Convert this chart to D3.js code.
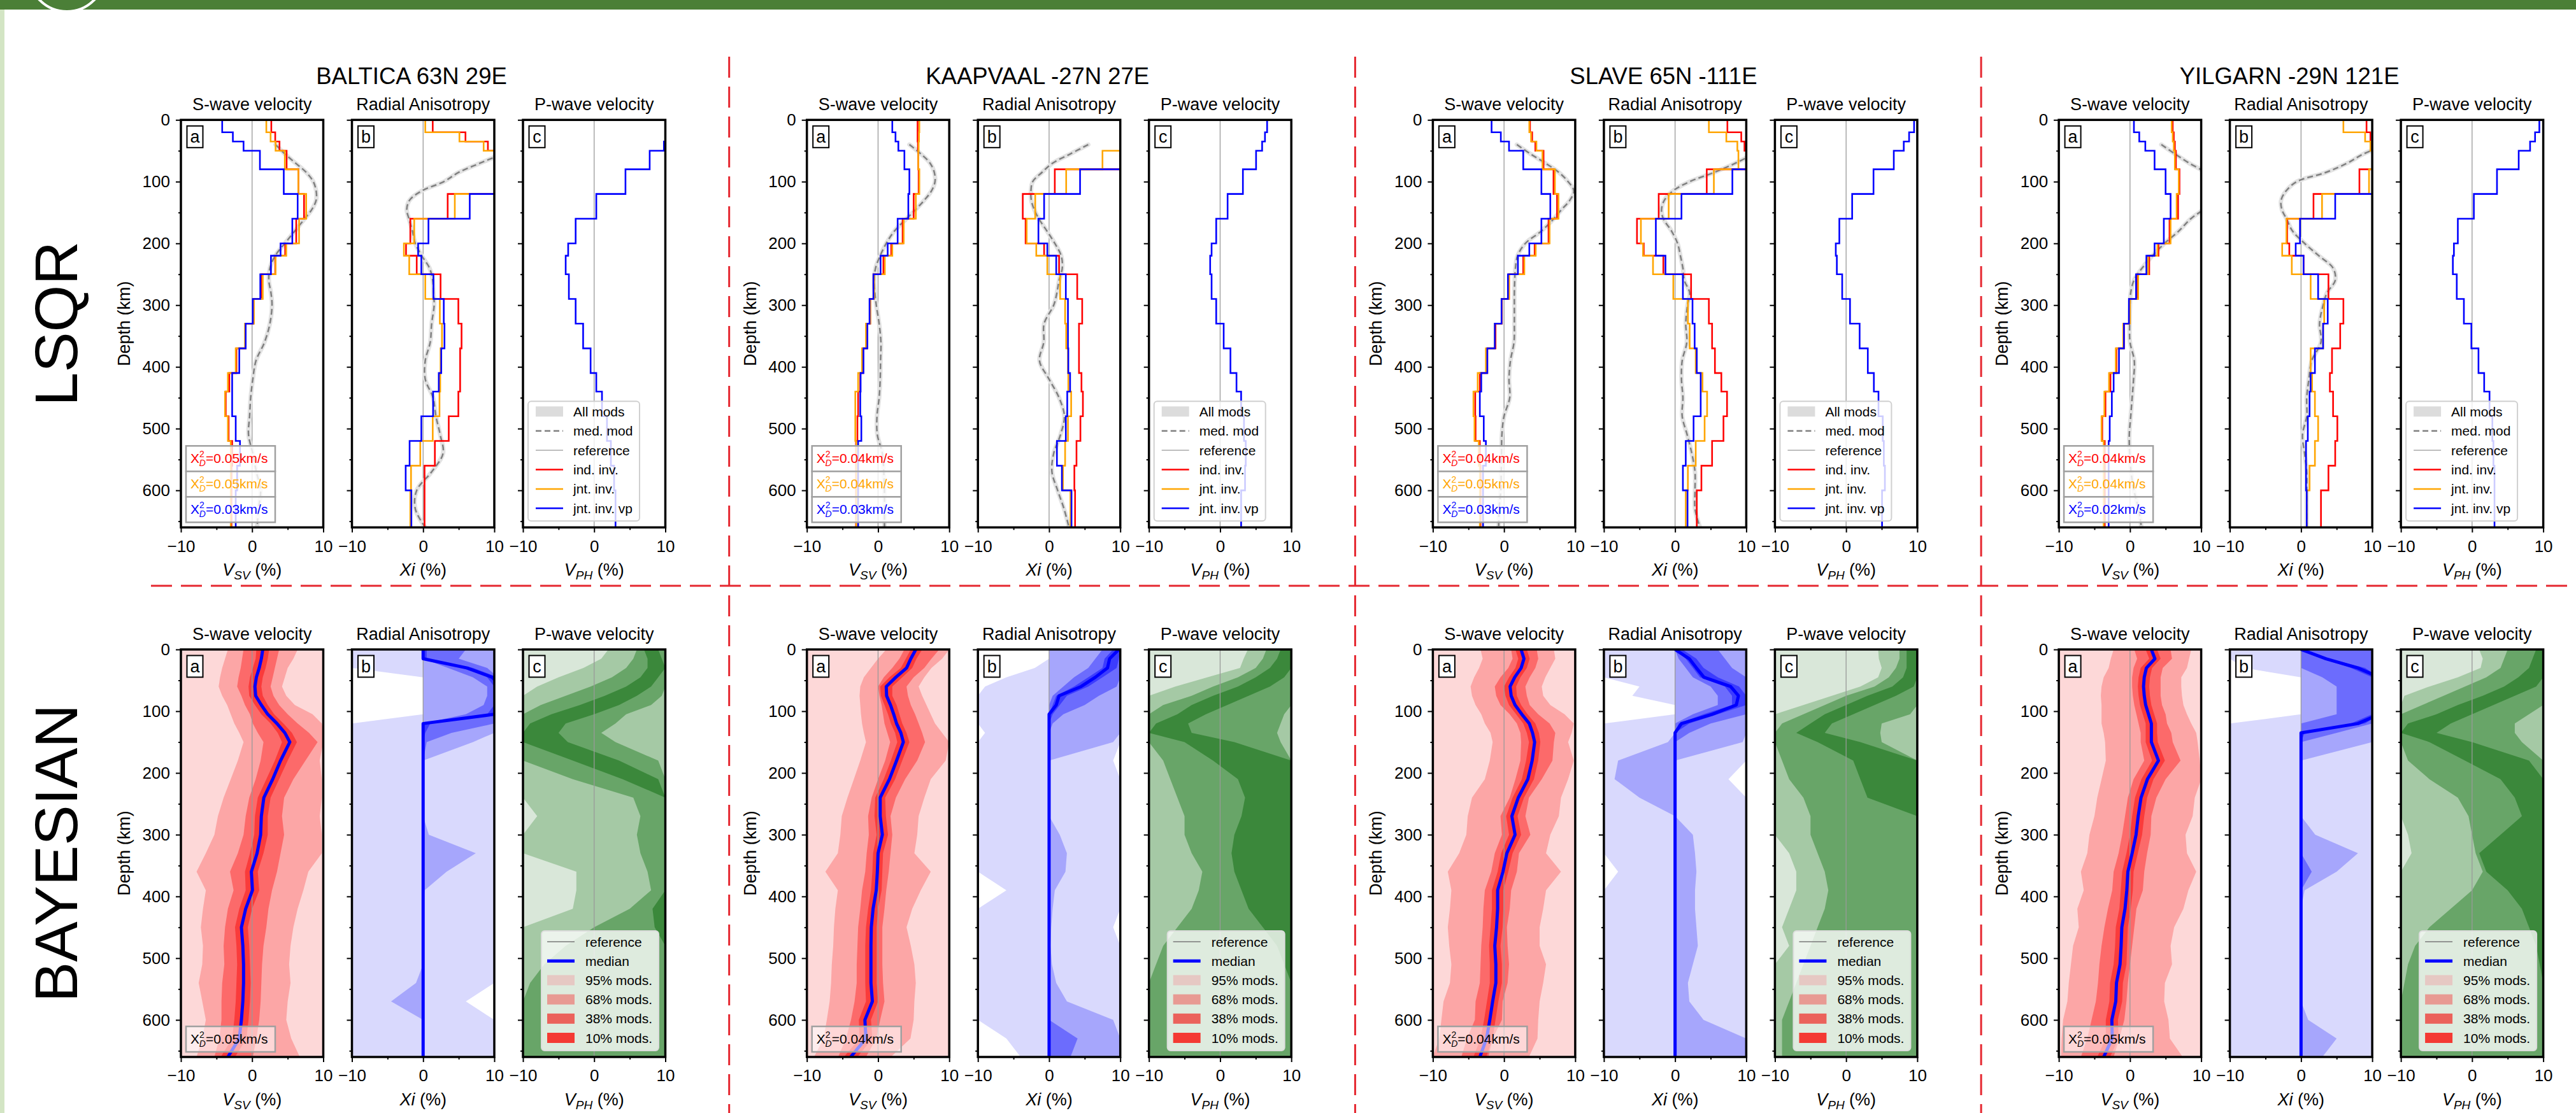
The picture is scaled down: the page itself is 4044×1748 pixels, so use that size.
<!DOCTYPE html>
<meta charset="utf-8">
<head>
  <title>LSQR vs Bayesian cratonic profiles</title>
</head>

<style>
body {
  margin: 0;
  background: #fff;
  font-family: "Liberation Sans", Arial, Helvetica, sans-serif;
}
svg text { font-family: "Liberation Sans", Arial, Helvetica, sans-serif; }
</style>

<body>
  <div id="content">
    <svg width="4044" height="1748"></svg>
  </div>

  <script src="https://cdnjs.cloudflare.com/ajax/libs/d3/7.8.5/d3.min.js"></script>

  <script>
// ---- depth grids ----
var LAYERS = [0,20,35,50,80,120,160,200,220,250,290,330,370,410,440,480,520,560,600,660];
var MED_DEPTHS = [40,55,70,85,100,115,130,145,160,180,200,220,240,260,280,300,330,360,390,420,450,480,510,540,570,600,630,660];
var BAYES_DEPTHS = [0,15,30,45,60,75,90,105,120,135,150,180,210,240,270,300,330,360,390,420,450,480,510,540,570,600,630,660];

// ---- labels ----
var REGION_NAMES = ['BALTICA 63N 29E', 'KAAPVAAL -27N 27E', 'SLAVE 65N -111E', 'YILGARN -29N 121E'];
var ROW_NAMES = ['LSQR', 'BAYESIAN'];
var PANEL_TITLES = ['S-wave velocity', 'Radial Anisotropy', 'P-wave velocity'];
var PANEL_LETTERS = ['a', 'b', 'c'];
var AXIS_LABELS = [['V', 'SV'], ['Xi', ''], ['V', 'PH']];
var CHI_LSQR = [['0.05','0.05','0.03'], ['0.04','0.04','0.03'], ['0.04','0.05','0.03'], ['0.04','0.04','0.02']];
var CHI_BAYES = ['0.05', '0.04', '0.04', '0.05'];
var LEGEND_LSQR = ['All mods', 'med. mod', 'reference', 'ind. inv.', 'jnt. inv.', 'jnt. inv. vp'];
var LEGEND_BAYES = ['reference', 'median', '95% mods.', '68% mods.', '38% mods.', '10% mods.'];
var X_TICKS = [-10, 0, 10], X_MINOR = [-5, 5];
var Y_TICKS = [0,100,200,300,400,500,600], Y_MINOR = [50,150,250,350,450,550,650];

// ---- LSQR step models (one value per layer) ----
var BAL_VSV_IND = [2.7,3.25,3.85,4.85,6.5,7.3,6.2,4.65,3.25,1.3,0.2,-0.9,-2.2,-3.2,-3.7,-3.3,-2.8,-2.9,-2.9];
var BAL_VSV_JNT = [2.0,2.6,3.3,4.6,6.5,7.6,6.6,4.8,3.3,1.5,0.25,-1.0,-2.3,-3.4,-3.8,-3.4,-3.0,-3.0,-3.0];
var BAL_VSV_VP  = [-4.2,-2.7,-1.2,1.1,4.45,6.4,5.65,4.0,2.65,1.15,0.1,-0.9,-1.8,-2.8,-2.8,-2.3,-1.7,-2.1,-2.3];
var BAL_XI_IND  = [1.35,5.95,9.1,12,12,3.45,-1.8,-2.4,-0.9,2.45,4.95,5.4,5.2,5.2,4.95,3.6,1.65,0.2,0.2];
var BAL_XI_JNT  = [0.3,5.1,8.5,12,12,4.45,-1.25,-2.7,-1.95,0.3,2.35,2.65,2.45,2.4,2.3,1.35,-0.4,-1.7,-1.8];
var BAL_XI_VP   = [12,12,12,12,12,6.55,0.75,-0.7,-0.25,1.45,2.9,3.0,2.55,2.2,1.4,-0.25,-1.9,-2.45,-1.65];
var BAL_VPH_VP  = [12,12,9.8,7.8,4.4,0.3,-2.6,-3.65,-4.0,-3.55,-2.6,-1.55,-0.5,0.3,1.1,1.8,2.35,2.8,3.0];

var KAA_VSV_IND = [5.55,5.55,5.6,5.65,5.7,5.0,3.45,1.85,0.75,-0.65,-1.1,-1.55,-2.1,-2.5,-2.8,-2.9,-3.1,-3.1,-3.1];
var KAA_VSV_JNT = [5.8,5.75,5.7,5.65,5.8,5.3,3.6,2.0,0.95,-0.55,-1.1,-1.7,-2.25,-2.8,-3.2,-3.2,-3.05,-3.05,-3.05];
var KAA_VSV_VP  = [2.0,2.45,2.85,3.7,4.4,4.25,2.75,1.35,0.35,-0.65,-1.2,-1.5,-2.05,-2.45,-2.5,-2.35,-2.8,-2.8,-2.8];
var KAA_XI_IND  = [12,12,12,12,0.8,-3.7,-3.3,-0.7,1.4,3.95,4.65,4.2,4.2,4.55,4.75,4.4,3.85,3.55,3.65];
var KAA_XI_JNT  = [12,12,12,7.5,2.4,-1.95,-3.15,-1.8,-0.25,1.55,2.25,2.4,2.65,2.7,3.1,2.65,2.25,1.95,3.0];
var KAA_XI_VP   = [12,12,12,12,4.35,-0.7,-1.5,-0.25,1.0,2.35,2.65,2.65,2.7,2.95,2.55,2.35,1.1,1.8,3.15];
var KAA_VPH_VP  = [6.6,6.3,5.9,5.05,3.2,1.05,-0.55,-1.2,-1.4,-1.2,-0.55,0.5,1.45,2.3,2.95,3.35,3.6,3.5,2.95];

var SLA_VSV_IND = [3.65,3.95,4.4,5.55,6.95,7.45,6.25,4.3,2.7,0.7,-0.3,-1.2,-2.35,-3.4,-4.05,-4.0,-3.4,-3.3,-3.3];
var SLA_VSV_JNT = [3.55,3.8,4.55,5.4,7.15,7.65,6.4,4.45,2.85,0.7,-0.35,-1.3,-2.55,-3.7,-4.3,-4.15,-3.55,-3.4,-3.4];
var SLA_VSV_VP  = [-1.75,-0.45,0.7,2.7,5.25,6.5,5.25,3.55,1.95,0.55,-0.35,-1.3,-2.35,-3.2,-3.4,-2.85,-2.55,-2.95,-2.95];
var SLA_XI_IND  = [7.35,9.3,9.75,12,4.45,-2.3,-5.35,-4.4,-1.65,2.25,4.75,5.2,5.6,6.5,7.3,6.8,5.2,3.7,3.05];
var SLA_XI_JNT  = [4.75,7.2,8.75,8.9,5.45,-0.9,-4.8,-4.5,-3.1,-0.25,1.8,2.05,2.9,3.85,4.5,4.15,2.9,1.8,1.5];
var SLA_XI_VP   = [12,12,12,12,8.05,0.9,-2.7,-2.7,-1.35,1.1,2.45,2.75,3.05,3.6,3.6,2.6,1.5,1.1,1.75];
var SLA_VPH_VP  = [9.55,8.85,8.1,6.7,3.85,0.85,-0.95,-1.45,-1.3,-0.55,0.55,1.9,3.05,3.9,4.55,5.15,5.3,5.45,5.05];

var YIL_VSV_IND = [6.0,6.15,6.3,6.45,6.95,6.75,5.55,4.0,2.7,1.0,-0.1,-0.85,-1.9,-2.75,-3.45,-3.9,-3.55,-3.55,-3.55];
var YIL_VSV_JNT = [5.85,6.0,6.15,6.3,6.85,6.55,5.7,3.85,2.55,1.15,0.0,-0.95,-2.0,-2.95,-3.6,-4.0,-3.7,-3.7,-3.7];
var YIL_VSV_VP  = [0.55,1.3,2.15,3.45,5.0,5.7,4.75,3.45,2.3,0.85,-0.15,-0.85,-1.55,-2.3,-2.55,-2.85,-3.0,-3.0,-3.0];
var YIL_XI_IND  = [9.2,9.75,9.75,12,8.2,1.75,-1.95,-1.65,0.35,3.85,5.95,5.5,4.35,4.05,4.5,5.1,4.8,3.85,2.8];
var YIL_XI_JNT  = [5.95,9.0,9.75,12,9.55,2.95,-2.05,-2.65,-1.3,1.35,3.25,3.1,1.35,1.55,1.95,2.4,1.95,1.2,0.8];
var YIL_XI_VP   = [12,12,12,12,12,4.8,-0.15,-0.75,0.35,2.4,3.75,3.1,1.95,1.35,1.2,0.95,0.7,0.7,0.8];
var YIL_VPH_VP  = [9.45,8.85,8.15,6.55,3.5,0.25,-2.0,-2.55,-2.7,-2.15,-1.15,-0.1,0.9,1.7,2.45,2.85,3.0,3.15,3.15];

// ---- LSQR median of all models (on MED_DEPTHS) ----
var BAL_VSV_MED = [3.3,4.6,6.1,7.6,8.6,9.0,9.0,8.4,7.4,6.0,4.6,3.25,2.5,2.35,2.65,2.8,2.5,1.75,0.55,0.1,-0.2,-0.35,-0.5,0.1,0.6,1.2,0.9,0.7];
var BAL_XI_MED  = [13,11,8.0,5.0,2.9,-0.2,-1.9,-2.3,-2.0,-1.5,-1.1,-0.2,0.9,1.35,1.45,1.55,1.2,1.0,0.3,0.3,1.4,1.8,2.4,2.8,1.2,-0.9,-1.1,0.3];
var KAA_VSV_MED = [4.4,6.0,7.3,7.9,8.0,7.5,6.5,5.3,4.0,2.3,1.15,0.3,-0.35,-0.55,-0.45,-0.25,0.15,0.4,0.35,0.3,0.15,-0.15,-0.1,0.6,0.8,0.9,0.9,0.9];
var KAA_XI_MED  = [5.5,3.0,0.5,-1.0,-2.3,-2.55,-2.5,-2.1,-1.45,-0.3,0.8,1.7,1.85,1.4,1.1,0.65,-0.7,-0.75,-1.35,0,1.4,2.15,1.6,0.65,0.4,1.2,2.1,2.8];
var SLA_VSV_MED = [1.8,3.7,5.8,7.7,9.0,9.8,9.25,8.1,7.0,5.25,3.0,1.9,1.6,1.5,1.45,1.45,1.45,1.4,0.9,0.7,0.8,0.0,-0.3,-0.35,-0.4,-0.45,-0.7,-0.75];
var SLA_XI_MED  = [13,11,8.5,5.5,2.05,-0.3,-1.5,-1.9,-1.65,-0.5,0.35,0.75,1.1,1.3,2.05,1.75,1.5,1.65,1.0,0.9,1.1,1.0,1.7,2.35,2.8,2.8,2.8,3.5];
var YIL_VSV_MED = [4.4,6.3,8.3,10.5,11.5,12,11.5,10.3,8.55,6.85,4.85,3.15,1.7,0.55,0.1,0,-0.05,0,0.6,0.5,0.3,0.1,-0.1,-0.05,0.15,0.55,1.2,1.6];
var YIL_XI_MED  = [12,8.8,6.5,3.5,-0.6,-2.1,-2.8,-2.7,-2.05,-1.2,0.5,2.5,4.5,4.8,3.65,3.1,2.6,2.8,1.5,1.1,0.8,0.8,0.2,0.5,0.8,0.8,0.8,0.8];

// ---- Bayesian percentiles (on BAYES_DEPTHS) ----
var FULL_LO = [-10,-10,-10,-10,-10,-10,-10,-10,-10,-10,-10,-10,-10,-10,-10,-10,-10,-10,-10,-10,-10,-10,-10,-10,-10,-10,-10,-10];
var FULL_HI = [10,10,10,10,10,10,10,10,10,10,10,10,10,10,10,10,10,10,10,10,10,10,10,10,10,10,10,10];
var ZEROS   = [0,0,0,0,0,0,0,0,0,0,0,0,0,0,0,0,0,0,0,0,0,0,0,0,0,0,0,0];

// S-wave (a)
var BAL_BA_MED  = [1.5,1.3,1.0,0.6,0.4,0.5,1.3,2.2,3.5,4.6,5.3, 4.0,2.9,1.65,1.3,1.2,0.7,-0.1,0.05,-0.9,-1.5,-1.3,-1.2,-1.2,-1.3,-1.5,-1.8,-3.4];
var BAL_BA_LO10 = [0.6,0.5,0.1,-0.3,-0.5,-0.4,0.4,1.3,2.6,3.6,4.2, 3.2,2.0,0.8,0.4,0.3,-0.3,-1.0,-0.9,-1.8,-2.4,-2.2,-2.1,-2.2,-2.3,-2.5,-2.8,-4.4];
var BAL_BA_HI10 = [2.4,2.2,1.9,1.5,1.3,1.5,2.2,3.1,4.4,5.6,6.3, 5.0,3.8,2.6,2.2,2.2,1.6,0.8,1.0,0.0,-0.6,-0.4,-0.3,-0.2,-0.3,-0.5,-0.8,-2.4];
var BAL_BA_LO38 = [-1.2,-1.4,-1.6,-1.9,-2.1,-1.5,-1.0,-0.3,0.1,0.8,1.6, 1.2,0.5,-0.4,-0.9,-1.2,-2.0,-3.1,-2.6,-3.4,-3.8,-4.0,-3.9,-4.2,-4.3,-4.3,-4.6,-5.3];
var BAL_BA_HI38 = [3.8,3.5,3.2,2.9,2.6,3.0,3.8,5.0,6.4,8.0,9.2, 7.5,5.8,4.5,4.2,4.5,4.0,3.5,2.8,2.3,2.0,1.6,1.4,1.3,1.2,1.0,0.6,0.1];
var BAL_BA_LO68 = [-3.4,-3.8,-4.2,-4.5,-4.7,-4.2,-3.5,-3.0,-2.5,-1.8,-1.2, -2.0,-3.0,-4.0,-4.8,-5.3,-6.5,-7.8,-6.5,-6.9,-7.2,-6.9,-7.0,-7.5,-7.0,-6.5,-7.0,-7.8];
var BAL_BA_HI68 = [6.4,5.8,5.0,4.6,4.2,4.8,6.0,8.5,9.8,10,10, 9.5,9.8,9.8,9.5,9.8,9.8,7.9,7.2,6.4,5.8,5.4,5.2,5.4,5.0,4.8,5.5,6.7];

var KAA_BA_MED  = [5.3,4.6,4.0,2.5,1.15,1.2,1.75,2.2,2.6,3.2,3.55, 2.6,1.6,0.3,0.3,0.6,0.0,-0.1,-0.25,-0.7,-0.95,-1.0,-1.0,-1.0,-0.8,-1.85,-1.7,-3.85];
var KAA_BA_LO10 = [4.6,3.9,3.2,1.6,0.3,0.4,0.9,1.4,1.8,2.4,2.7, 1.8,0.8,-0.4,-0.5,-0.2,-0.7,-0.8,-1.0,-1.4,-1.7,-1.8,-1.8,-1.8,-1.7,-2.7,-2.6,-4.8];
var KAA_BA_HI10 = [6.2,5.4,4.8,3.4,2.0,2.0,2.6,3.0,3.4,4.0,4.4, 3.4,2.4,1.0,1.1,1.4,0.7,0.6,0.5,0.0,-0.2,-0.2,-0.2,-0.2,0.0,-1.0,-0.8,-2.9];
var KAA_BA_LO38 = [3.7,3.0,2.0,0.8,0.0,0.2,0.5,0.7,0.9,1.3,1.7, 1.0,0.0,-0.9,-1.4,-1.3,-1.6,-1.8,-2.25,-2.5,-2.8,-2.9,-3.0,-3.0,-3.3,-3.8,-4.5,-5.6];
var KAA_BA_HI38 = [8.6,7.5,6.5,5.0,4.0,4.2,4.6,5.2,5.7,6.2,6.6, 5.5,3.8,2.5,1.75,2.0,1.75,1.5,1.15,0.9,0.6,0.6,0.6,0.7,0.9,0.3,-0.25,-1.7];
var KAA_BA_LO68 = [1.15,0.0,-1.0,-2.0,-2.5,-2.6,-2.5,-2.4,-2.25,-2.0,-1.7, -2.5,-3.4,-4.3,-5.1,-5.3,-5.65,-7.4,-5.65,-6.0,-6.2,-6.3,-6.5,-6.6,-6.8,-7.2,-7.65,-9.0];
var KAA_BA_HI68 = [10,9.0,7.5,6.5,5.7,6.2,6.8,7.4,8.0,9.0,10, 9.5,7.4,6.5,5.7,5.5,5.1,7.4,6.0,4.8,4.0,4.6,5.1,5.3,5.1,5.0,4.55,1.8];

var SLA_BA_MED  = [2.4,2.8,2.4,1.5,0.85,1.0,1.55,2.5,3.55,4.0,4.3, 3.95,3.35,2.0,1.1,1.55,0.4,-0.15,-0.9,-0.9,-1.05,-1.3,-1.15,-1.15,-1.6,-2.0,-2.45,-3.4];
var SLA_BA_LO10 = [1.6,2.0,1.6,0.7,0.0,0.2,0.7,1.7,2.7,3.2,3.5, 3.1,2.5,1.2,0.3,0.7,-0.4,-0.9,-1.7,-1.7,-1.9,-2.1,-2.0,-2.0,-2.4,-2.8,-3.3,-4.3];
var SLA_BA_HI10 = [3.2,3.6,3.2,2.3,1.7,1.8,2.4,3.3,4.4,4.9,5.1, 4.8,4.2,2.8,1.9,2.4,1.2,0.6,-0.1,-0.1,-0.2,-0.5,-0.3,-0.3,-0.8,-1.2,-1.6,-2.5];
var SLA_BA_LO38 = [1.0,1.2,0.6,-0.5,-1.3,-1.1,-0.5,0.8,1.8,2.3,2.4, 2.3,1.6,0.8,-0.5,-0.3,-1.3,-1.8,-2.7,-2.9,-3.0,-3.2,-3.3,-3.4,-4.0,-4.1,-5.2,-6.0];
var SLA_BA_HI38 = [4.6,4.8,4.4,3.6,3.0,3.2,3.6,4.8,6.4,7.2,7.0, 6.8,5.3,3.5,3.0,3.7,2.1,1.8,1.0,0.8,0.4,0.5,0.7,0.5,-0.2,-0.3,-1.6,-2.2];
var SLA_BA_LO68 = [-3.3,-3.0,-3.5,-4.2,-4.7,-4.5,-4.0,-3.2,-2.7,-1.9,-1.6, -2.0,-2.7,-4.5,-5.1,-5.3,-6.3,-7.9,-7.4,-7.6,-7.9,-7.7,-7.4,-7.6,-8.5,-8.8,-9.1,-10];
var SLA_BA_HI68 = [7.0,7.2,6.5,5.8,5.3,5.5,6.5,8.5,9.8,9.5,9.0, 9.8,9.0,8.0,7.7,6.5,5.9,8.0,5.9,5.5,5.0,5.0,5.9,5.5,5.0,4.8,4.7,3.5];

var YIL_BA_MED  = [3.0,3.5,2.3,2.0,1.9,2.0,2.2,2.6,3.0,3.0,3.0, 4.0,2.45,1.55,1.15,0.85,0.3,-0.3,-0.45,-0.7,-1.15,-1.25,-1.4,-1.9,-2.0,-2.55,-2.5,-3.7];
var YIL_BA_LO10 = [2.2,2.7,1.5,1.2,1.1,1.2,1.4,1.8,2.2,2.2,2.2, 3.1,1.6,0.7,0.3,0.0,-0.5,-1.1,-1.3,-1.5,-2.0,-2.1,-2.3,-2.8,-2.9,-3.4,-3.4,-4.6];
var YIL_BA_HI10 = [3.8,4.3,3.1,2.8,2.7,2.8,3.0,3.4,3.8,3.8,3.9, 4.9,3.3,2.4,2.0,1.7,1.1,0.5,0.4,0.1,-0.3,-0.4,-0.5,-1.0,-1.1,-1.7,-1.6,-2.8];
var YIL_BA_LO38 = [0.6,1.0,0.5,0.3,0.3,0.4,0.6,0.9,1.2,1.5,1.5, 2.0,0.5,-0.3,-0.7,-1.1,-1.6,-2.3,-2.5,-3.1,-3.6,-4.0,-4.3,-4.5,-4.8,-5.4,-6.0,-6.9];
var YIL_BA_HI38 = [5.7,5.9,4.6,4.3,4.3,4.3,4.5,5.0,5.2,5.8,6.0, 7.1,5.0,3.7,3.0,2.9,2.4,2.0,1.8,0.9,0.6,0.3,0.0,-0.3,-0.5,-0.8,-1.5,-2.3];
var YIL_BA_LO68 = [-2.3,-2.7,-3.0,-3.7,-4.0,-4.1,-4.0,-4.0,-4.0,-3.7,-3.5, -3.4,-4.0,-4.6,-5.0,-5.7,-6.0,-6.9,-6.5,-7.4,-7.2,-8.0,-8.3,-8.6,-8.8,-9.4,-9.6,-9.7];
var YIL_BA_HI68 = [8.6,8.3,8.0,7.2,7.2,7.3,7.5,8.0,8.6,9.3,9.5, 9.8,10,9.1,8.8,7.8,8.0,9.3,8.2,7.5,6.2,5.7,5.9,4.9,4.8,5.4,5.6,7.4];

// Radial anisotropy (b)
var BAL_BB_MED  = [0,0,6.2,9.7,11,11,11,10,0,0,0, 0,0,0,0,0,0,0,0,0,0,0,0,0,0,0,0,0];
var BAL_BB_LO10 = [0,0,5.5,9,10,10,10,9,0,0,0, 0,0,0,0,0,0,0,0,0,0,0,0,0,0,0,0,0];
var BAL_BB_HI10 = [0.5,0.5,7,10.5,11,11,11,10.5,1,0.3,0, 0,0,0,0,0,0,0,0,0,0,0,0,0,0,0,0,0];
var BAL_BB_LO38 = [0,0,3.5,7,9,9,8.5,6,0,0,0, 0,0,0,0,0,0,0,0,0,0,0,0,0,0,0,0,0];
var BAL_BB_HI38 = [6,5,9,10.5,10.5,10.5,10.5,10.5,10,4,0.5, 0,0,0,0,0,0,0,0,0,0,0,0,0,0,0,0,0];
var BAL_BB_LO68 = [0,0,0,0,0,0,0,0,0,0,0, 0,0,0,0,0,0,0,0,0,0,0,0,-1,-4.5,0,0,0];
var BAL_BB_HI68 = [10,10,10,10,10,10,10,10,10,10,7, 0,0,0,0,0.8,7.4,3.3,0.2,0,0,0,0,0,0,0,0,0];
var BAL_BB_LO95 = [-10,-10,-10,0,0,0,0,0,-10,-10,-10, -10,-10,-10,-10,-10,-10,-10,-10,-10,-10,-10,-10,-10,-10,-10,-10,-10];
var BAL_BB_HI95 = [10,10,10,10,10,10,10,10,10,10,10, 10,10,10,10,10,10,10,10,10,10,10,10,10,6,10,10,10];

var KAA_BB_MED  = [9.8,8.5,8.2,6.5,4.5,1.4,1.0,0,0,0,0, 0,0,0,0,0,0,0,0,0,0,0,0,0,0,0,0,0];
var KAA_BB_LO10 = [9.0,7.8,7.5,5.5,3.5,1.0,0.5,0,0,0,0, 0,0,0,0,0,0,0,0,0,0,0,0,0,0,0,0,0];
var KAA_BB_HI10 = [10,9.8,9.5,7.5,5.5,2.5,1.5,0.5,0,0,0, 0,0,0,0,0,0,0,0,0,0,0,0,0,0,0,0,0];
var KAA_BB_LO38 = [7.5,6.5,5.5,3.5,2.0,0.5,0,0,0,0,0, 0,0,0,0,0,0,0,0,0,0,0,0,0,0,0,0,0];
var KAA_BB_HI38 = [10,10,10,10,9.5,7,5,2,0.5,0,0, 0,0,0,0,0,0,0,0,0,0,0,0,0,0,0,4,3];
var KAA_BB_HI68 = [10,10,10,10,10,10,10,10,10,10,9, 0,0,0,0,1.5,2.5,2.3,0.8,0.5,0.3,0.2,0.4,1,2.5,9,10,10];
var KAA_BB_LO95 = [0,0,-2,-6,-9,-10,-10,-10,-10,-9,-10, -10,-10,-10,-10,-10,-10,-10,-6,-10,-10,-10,-10,-10,-10,-10,-6,-4];
var KAA_BB_HI95 = [10,10,10,10,10,10,10,10,10,10,10, 9,10,10,10,10,10,10,10,10,9,10,10,10,10,10,10,10];

var SLA_BB_MED  = [0,2.0,3.0,4.05,7.8,8.9,8.6,5.2,0.9,0,0, 0,0,0,0,0,0,0,0,0,0,0,0,0,0,0,0,0];
var SLA_BB_LO10 = [0,1.5,2.5,3.5,7,8,8,4,0.5,0,0, 0,0,0,0,0,0,0,0,0,0,0,0,0,0,0,0,0];
var SLA_BB_HI10 = [1,3,4,6,9,10,10,6,2,0,0, 0,0,0,0,0,0,0,0,0,0,0,0,0,0,0,0,0];
var SLA_BB_LO38 = [0,0.5,1.5,2.5,5,6,6,2.5,0,0,0, 0,0,0,0,0,0,0,0,0,0,0,0,0,0,0,0,0];
var SLA_BB_HI38 = [6,7,8,10,10,10,10,10,5,2,0, 0,0,0,0,0,0,0,0,0,0,0,0,0,0,0,0,0];
var SLA_BB_LO68 = [0,0,0,0,0,0,0,0,0,0,-1, -8,-8.5,-5,0,0,0,0,0,0,0,0,0,0,0,0,0,0];
var SLA_BB_HI68 = [10,10,10,10,10,10,10,10,10,10,9.5, 0,0,0,0,2.5,2.8,3.0,2.8,2.8,3.0,3.2,2.5,1.8,2.0,4.0,10,10];
var SLA_BB_LO95 = [-10,-10,-10,-10,-5,-6,0,0,-10,-10,-10, -10,-10,-10,-10,-10,-10,-8,-10,-10,-10,-10,-10,-10,-10,-10,-10,-10];
var SLA_BB_HI95 = [10,10,10,10,10,10,10,10,10,10,10, 10,7.5,10,10,10,10,10,10,10,10,10,10,10,10,10,10,10];

var YIL_BB_MED  = [0,3.5,8,11,11,11,11,11,8,0,0, 0,0,0,0,0,0,0,0,0,0,0,0,0,0,0,0,0];
var YIL_BB_LO10 = [0,3,7,10,10,10,10,10,7,0,0, 0,0,0,0,0,0,0,0,0,0,0,0,0,0,0,0,0];
var YIL_BB_HI10 = [0.5,4,9,11,11,11,11,11,9,0.5,0, 0,0,0,0,0,0,0,0,0,0,0,0,0,0,0,0,0];
var YIL_BB_LO38 = [0,0,0,3,5,5,5,5,0,0,0, 0,0,0,0,0,0,0,0,0,0,0,0,0,0,0,0,0];
var YIL_BB_HI38 = [10,10,10,10,10,10,10,10,10,5,0, 0,0,0,0,0,0,1.5,0,0,0,0,0,0,0,0,0,0];
var YIL_BB_HI68 = [10,10,10,10,10,10,10,10,10,10,10, 0,0,0,0,2,8,5,0.5,0,0,0,0,0,0,1,5,3];
var YIL_BB_LO95 = [-10,-10,-8,0,0,0,0,0,-10,-10,-10, -10,-10,-10,-10,-10,-10,-10,-10,-10,-10,-10,-10,-10,-10,-10,-10,-10];

// P-wave (c)
var BAL_BC_LO68 = [2.0,1.0,-1.5,-5,-8,-10,-10,-10,-10,-10,-10, -10,-10,-10,-8,-10,-10,-2.5,-2.5,-3,-10,-10,-10,-10,-10,-10,-10,-10];
var BAL_BC_LO38 = [6.0,5.5,4.5,2.5,-0.5,-4,-7.5,-10,-10,-10,-10, -10,-3,5.5,6.5,6.0,6.5,7.5,8.0,5.0,0,-4,-7,-9,-10,-10,-10,-10];
var BAL_BC_LO10 = [7.0,7.5,7.5,6.5,4.5,1.5,-2,-6,-9,-10,-10, -3,4,10,10,10,10,10,10,8.2,8.5,10,10,10,10,10,10,10];
var BAL_BC_HI10 = [9.0,9.5,10,9.0,8.0,6.0,3.5,0,-4,-5,-3.7, 3.5,9,10,10,10,10,10,10,10,10,10,10,10,10,10,10,10];
var BAL_BC_HI38 = [10,10,10,10,10,9.5,8,4.5,3,1,3, 9,10,10,10,10,10,10,10,10,10,10,10,10,10,10,10,10];

var KAA_BC_LO68 = [3.9,3.3,2.8,-1.8,-6.3,-10,-10,-10,-10,-10,-10, -10,-10,-10,-10,-10,-10,-10,-10,-10,-10,-10,-10,-10,-10,-10,-10,-10];
var KAA_BC_LO38 = [6.5,6.0,5.0,2.5,-1,-4,-8,-10,-10,-10,-10, -8,-7,-6,-5,-5,-4,-2.5,-3,-4,-6,-8,-9,-10,-10,-10,-10,-10];
var KAA_BC_LO10 = [8.5,8.0,7.0,5.0,2.5,-1,-4,-6,-9,-10,-5, -1,2.5,3.5,3.0,2.0,1.6,2.0,3.0,4.0,6.0,8.0,9.0,10,10,10,10,10];
var KAA_BC_HI10 = [10,10,10,9,7,4,1,-2,-4.5,-4,2, 10,10,10,10,10,10,10,10,10,10,10,10,10,10,10,10,10];
var KAA_BC_HI38 = [10,10,10,10,10,10,10,9,8.5,8,8.5, 10,10,10,10,10,10,10,10,10,10,10,10,10,10,10,10,10];

var SLA_BC_LO68 = [4.5,4.6,5.0,4.5,2.0,-2,-6,-10,-10,-10,-10, -10,-10,-10,-10,-10,-8,-7,-7,-8,-9,-8,-10,-10,-10,-10,-10,-10];
var SLA_BC_LO38 = [7.5,7.5,7.0,6.0,4.0,0,-3,-6,-9,-10,-10, -9,-8,-6,-5,-5,-4,-3,-2.5,-3,-4,-5,-6,-7,-8,-9,-9,-9];
var SLA_BC_LO10 = [8.5,8.5,8.5,8.0,6.5,3,0,-3,-5,-7,-4, 1,2,3,10,10,10,10,10,10,10,10,10,10,10,10,10,10];
var SLA_BC_HI10 = [10,10,10,10,9.5,7,4,1,-2,-3,2, 10,10,10,10,10,10,10,10,10,10,10,10,10,10,10,10,10];
var SLA_BC_HI38 = [10,10,10,10,10,10,10,9,5,4.8,5, 10,10,10,10,10,10,10,10,10,10,10,10,10,10,10,10,10];

var YIL_BC_LO68 = [1.0,1.5,1.2,-2,-6,-9.5,-10,-10,-10,-10,-10, -10,-10,-10,-10,-9,-8.5,-10,-10,-10,-10,-10,-10,-10,-10,-10,-10,-10];
var YIL_BC_LO38 = [5,4.5,4,2,-1,-4,-7,-10,-10,-10,-10, -9,-6,-2,-0.5,0,0.5,1.5,0,-3,-6,-8,-9,-9.5,-10,-10,-10,-10];
var YIL_BC_LO10 = [9,8.5,8,6.5,4.5,1.5,-2,-5,-9,-10,-6, -1,4,6,7,4,1,2,5,7,8,9,9.5,10,10,10,10,10];
var YIL_BC_HI10 = [10,10,10,10,9,6,3,0,-3,-5,0, 8,10,10,10,10,10,10,10,10,10,10,10,10,10,10,10,10];
var YIL_BC_HI38 = [10,10,10,10,10,10,10,8,6,6,7, 10,10,10,10,10,10,10,10,10,10,10,10,10,10,10,10,10];

// ---- region table built from the arrays above ----
var REGIONS = [
  { vsv: [BAL_VSV_IND, BAL_VSV_JNT, BAL_VSV_VP], xi: [BAL_XI_IND, BAL_XI_JNT, BAL_XI_VP], vph: BAL_VPH_VP,
    vsvMed: BAL_VSV_MED, xiMed: BAL_XI_MED,
    a: { med: BAL_BA_MED, bands: [[FULL_LO, FULL_HI], [BAL_BA_LO68, BAL_BA_HI68], [BAL_BA_LO38, BAL_BA_HI38], [BAL_BA_LO10, BAL_BA_HI10]] },
    b: { med: BAL_BB_MED, bands: [[BAL_BB_LO95, BAL_BB_HI95], [BAL_BB_LO68, BAL_BB_HI68], [BAL_BB_LO38, BAL_BB_HI38], [BAL_BB_LO10, BAL_BB_HI10]] },
    c: { med: null, bands: [[FULL_LO, FULL_HI], [BAL_BC_LO68, FULL_HI], [BAL_BC_LO38, BAL_BC_HI38], [BAL_BC_LO10, BAL_BC_HI10]] } },
  { vsv: [KAA_VSV_IND, KAA_VSV_JNT, KAA_VSV_VP], xi: [KAA_XI_IND, KAA_XI_JNT, KAA_XI_VP], vph: KAA_VPH_VP,
    vsvMed: KAA_VSV_MED, xiMed: KAA_XI_MED,
    a: { med: KAA_BA_MED, bands: [[FULL_LO, FULL_HI], [KAA_BA_LO68, KAA_BA_HI68], [KAA_BA_LO38, KAA_BA_HI38], [KAA_BA_LO10, KAA_BA_HI10]] },
    b: { med: KAA_BB_MED, bands: [[KAA_BB_LO95, KAA_BB_HI95], [ZEROS, KAA_BB_HI68], [KAA_BB_LO38, KAA_BB_HI38], [KAA_BB_LO10, KAA_BB_HI10]] },
    c: { med: null, bands: [[FULL_LO, FULL_HI], [KAA_BC_LO68, FULL_HI], [KAA_BC_LO38, KAA_BC_HI38], [KAA_BC_LO10, KAA_BC_HI10]] } },
  { vsv: [SLA_VSV_IND, SLA_VSV_JNT, SLA_VSV_VP], xi: [SLA_XI_IND, SLA_XI_JNT, SLA_XI_VP], vph: SLA_VPH_VP,
    vsvMed: SLA_VSV_MED, xiMed: SLA_XI_MED,
    a: { med: SLA_BA_MED, bands: [[FULL_LO, FULL_HI], [SLA_BA_LO68, SLA_BA_HI68], [SLA_BA_LO38, SLA_BA_HI38], [SLA_BA_LO10, SLA_BA_HI10]] },
    b: { med: SLA_BB_MED, bands: [[SLA_BB_LO95, SLA_BB_HI95], [SLA_BB_LO68, SLA_BB_HI68], [SLA_BB_LO38, SLA_BB_HI38], [SLA_BB_LO10, SLA_BB_HI10]] },
    c: { med: null, bands: [[FULL_LO, FULL_HI], [SLA_BC_LO68, FULL_HI], [SLA_BC_LO38, SLA_BC_HI38], [SLA_BC_LO10, SLA_BC_HI10]] } },
  { vsv: [YIL_VSV_IND, YIL_VSV_JNT, YIL_VSV_VP], xi: [YIL_XI_IND, YIL_XI_JNT, YIL_XI_VP], vph: YIL_VPH_VP,
    vsvMed: YIL_VSV_MED, xiMed: YIL_XI_MED,
    a: { med: YIL_BA_MED, bands: [[FULL_LO, FULL_HI], [YIL_BA_LO68, YIL_BA_HI68], [YIL_BA_LO38, YIL_BA_HI38], [YIL_BA_LO10, YIL_BA_HI10]] },
    b: { med: YIL_BB_MED, bands: [[YIL_BB_LO95, FULL_HI], [ZEROS, YIL_BB_HI68], [YIL_BB_LO38, YIL_BB_HI38], [YIL_BB_LO10, YIL_BB_HI10]] },
    c: { med: null, bands: [[FULL_LO, FULL_HI], [YIL_BC_LO68, FULL_HI], [YIL_BC_LO38, YIL_BC_HI38], [YIL_BC_LO10, YIL_BC_HI10]] } }
];

// ---- style ----
var W = 4044, H = 1748;
var PANEL_W = 223.5, PANEL_H = 640;
var ROW_TOP = [188.3, 1020];
var LINE_COLORS = ['#ff0000', '#ffa500', '#0000ff'];
var BLUE = '#0000ff';
var SEP = '#e5262f';
var REF = '#999999';
var BAND_COLORS = [
  ['#fdd8d8', '#fca6a6', '#fc6a6a', '#fa3b3b'],
  ['#d9d9fd', '#a6a6fc', '#6c6cfd', '#3c3cfe'],
  ['#d9e7d9', '#a5c9a5', '#68a568', '#3b883b']
];
var LEGEND_PATCH = ['#e6c8c3', '#e89a93', '#eb625b', '#f43a33'];

var svg = d3.select('#content svg');

function panelLeft(r, p) { return 284 + r * 982.7 + p * 268.5; }

// header decoration
svg.append('rect').attr('x', 0).attr('y', 0).attr('width', W).attr('height', 15).attr('fill', '#4b7f37');
svg.append('rect').attr('x', 0).attr('y', 15).attr('width', 7).attr('height', H - 15).attr('fill', '#d3e5c4');
svg.append('circle').attr('cx', 105).attr('cy', -42).attr('r', 60)
  .attr('fill', '#4b7f37').attr('stroke', '#fff').attr('stroke-width', 4);

// row labels
ROW_NAMES.forEach(function(name, row) {
  var cy = ROW_TOP[row] + PANEL_H / 2;
  svg.append('text').attr('transform', 'translate(88,' + cy + ') rotate(-90)')
    .attr('text-anchor', 'middle').attr('dominant-baseline', 'central')
    .style('font-size', '95px').text(name);
});

// separators
svg.append('line').attr('x1', 237).attr('x2', W).attr('y1', 920).attr('y2', 920)
  .attr('stroke', SEP).attr('stroke-width', 3).attr('stroke-dasharray', '33,14');
[1, 2, 3].forEach(function(r) {
  var x = panelLeft(r, 0) - 122;
  svg.append('line').attr('x1', x).attr('x2', x).attr('y1', 89).attr('y2', H)
    .attr('stroke', SEP).attr('stroke-width', 3).attr('stroke-dasharray', '33,14');
});

function stepPts(vals) {
  var pts = [];
  vals.forEach(function(v, i) { pts.push([v, LAYERS[i]]); pts.push([v, LAYERS[i + 1]]); });
  return pts;
}

function chiLabel(g, x, y, val, color) {
  var t = g.append('text').attr('x', x).attr('y', y).attr('fill', color).style('font-size', '21px');
  t.append('tspan').text('X');
  t.append('tspan').style('font-size', '14px').attr('dy', -9).text('2');
  t.append('tspan').style('font-size', '14px').style('font-style', 'italic').attr('dx', -8).attr('dy', 14).text('D');
  t.append('tspan').attr('dy', -5).text('=' + val + 'km/s');
}

function axisLabel(g, cx, y, main, sub) {
  var t = g.append('text').attr('x', cx).attr('y', y).attr('text-anchor', 'middle').style('font-size', '27px');
  t.append('tspan').style('font-style', 'italic').text(main);
  if (sub) t.append('tspan').style('font-style', 'italic').style('font-size', '19px').attr('dy', 6).text(sub);
  t.append('tspan').attr('dy', sub ? -6 : 0).text(' (%)');
}

function styleAxis(a) {
  a.select('.domain').remove();
  a.selectAll('line').attr('stroke', '#000').attr('stroke-width', 2);
  a.selectAll('text').attr('fill', '#000').style('font-size', '26px')
    .style('font-family', '"Liberation Sans", Arial, Helvetica, sans-serif');
}

function drawAxes(g, x, y, left, top, showY) {
  var blank = function() { return ''; };
  styleAxis(g.append('g').attr('transform', 'translate(' + left + ',0)')
    .call(d3.axisLeft(y).tickValues(Y_TICKS).tickSize(8).tickPadding(9).tickFormat(showY ? d3.format('d') : blank)));
  styleAxis(g.append('g').attr('transform', 'translate(' + left + ',0)')
    .call(d3.axisLeft(y).tickValues(Y_MINOR).tickSize(4).tickFormat(blank)));
  styleAxis(g.append('g').attr('transform', 'translate(0,' + (top + PANEL_H) + ')')
    .call(d3.axisBottom(x).tickValues(X_TICKS).tickSize(8).tickPadding(12).tickFormat(d3.format('d'))));
  styleAxis(g.append('g').attr('transform', 'translate(0,' + (top + PANEL_H) + ')')
    .call(d3.axisBottom(x).tickValues(X_MINOR).tickSize(4).tickFormat(blank)));
}

function legendLSQR(g, cl, top) {
  g.append('rect').attr('x', cl + 8).attr('y', top + 442).attr('width', 175).attr('height', 188).attr('rx', 5)
    .attr('fill', '#fff').attr('fill-opacity', 0.8).attr('stroke', '#d0d0d0').attr('stroke-width', 2);
  LEGEND_LSQR.forEach(function(lbl, i) {
    var yy = top + 458 + i * 30.4, x0 = cl + 20, x1 = cl + 63;
    if (i === 0) {
      g.append('rect').attr('x', x0).attr('y', yy - 8).attr('width', x1 - x0).attr('height', 16).attr('fill', '#dcdcdc');
    } else {
      var ln = g.append('line').attr('x1', x0).attr('x2', x1).attr('y1', yy).attr('y2', yy);
      if (i === 1) ln.attr('stroke', '#808080').attr('stroke-width', 2.5).attr('stroke-dasharray', '9,5');
      else if (i === 2) ln.attr('stroke', REF).attr('stroke-width', 1.3);
      else ln.attr('stroke', LINE_COLORS[i - 3]).attr('stroke-width', 2.5);
    }
    g.append('text').attr('x', cl + 79).attr('y', yy).attr('dominant-baseline', 'central')
      .style('font-size', '21px').text(lbl);
  });
}

function legendBayes(g, cl, top) {
  g.append('rect').attr('x', cl + 29).attr('y', top + 442).attr('width', 184).attr('height', 188).attr('rx', 5)
    .attr('fill', '#fff').attr('fill-opacity', 0.78).attr('stroke', '#dcdcdc').attr('stroke-width', 2);
  LEGEND_BAYES.forEach(function(lbl, i) {
    var yy = top + 459 + i * 30.2, x0 = cl + 38, x1 = cl + 81;
    if (i === 0) {
      g.append('line').attr('x1', x0).attr('x2', x1).attr('y1', yy).attr('y2', yy).attr('stroke', '#777').attr('stroke-width', 1.3);
    } else if (i === 1) {
      g.append('line').attr('x1', x0).attr('x2', x1).attr('y1', yy).attr('y2', yy).attr('stroke', BLUE).attr('stroke-width', 5);
    } else {
      g.append('rect').attr('x', x0).attr('y', yy - 8).attr('width', x1 - x0).attr('height', 16).attr('fill', LEGEND_PATCH[i - 2]);
    }
    g.append('text').attr('x', cl + 98).attr('y', yy).attr('dominant-baseline', 'central')
      .style('font-size', '21px').text(lbl);
  });
}

var clipId = 0;

function drawPanel(reg, r, row, p) {
  var left = panelLeft(r, p), top = ROW_TOP[row];
  var x = d3.scaleLinear().domain([-10, 10]).range([left, left + PANEL_W]);
  var y = d3.scaleLinear().domain([0, 660]).range([top, top + PANEL_H]);
  var g = svg.append('g');
  var id = 'clip' + (clipId++);
  g.append('clipPath').attr('id', id).append('rect')
    .attr('x', left).attr('y', top).attr('width', PANEL_W).attr('height', PANEL_H);
  var inner = g.append('g').attr('clip-path', 'url(#' + id + ')');
  inner.append('rect').attr('x', left).attr('y', top).attr('width', PANEL_W).attr('height', PANEL_H).attr('fill', '#fff');

  var refLine = function() {
    inner.append('line').attr('x1', x(0)).attr('x2', x(0)).attr('y1', top).attr('y2', top + PANEL_H)
      .attr('stroke', REF).attr('stroke-width', 1.3);
  };

  if (row === 0) {
    refLine();
    var med = p === 0 ? reg.vsvMed : (p === 1 ? reg.xiMed : null);
    if (med) {
      var ml = d3.line().curve(d3.curveCatmullRom)
        .x(function(d, i) { return x(med[i]); }).y(function(d) { return y(d); });
      inner.append('path').datum(MED_DEPTHS).attr('d', ml).attr('fill', 'none')
        .attr('stroke', '#e3e3e3').attr('stroke-width', 7).attr('stroke-linecap', 'round');
      inner.append('path').datum(MED_DEPTHS).attr('d', ml).attr('fill', 'none')
        .attr('stroke', '#808080').attr('stroke-width', 2.5).attr('stroke-dasharray', '9,5');
    }
    var sl = d3.line().x(function(d) { return x(d[0]); }).y(function(d) { return y(d[1]); });
    var models = p === 0 ? reg.vsv : (p === 1 ? reg.xi : [null, null, reg.vph]);
    models.forEach(function(m, k) {
      if (!m) return;
      inner.append('path').datum(stepPts(m)).attr('d', sl).attr('fill', 'none')
        .attr('stroke', LINE_COLORS[k]).attr('stroke-width', 2.6);
    });
  } else {
    var set = p === 0 ? reg.a : (p === 1 ? reg.b : reg.c);
    set.bands.forEach(function(b, k) {
      var area = d3.area().y(function(d) { return y(d); })
        .x0(function(d, i) { return x(b[0][i]); }).x1(function(d, i) { return x(b[1][i]); });
      inner.append('path').datum(BAYES_DEPTHS).attr('d', area).attr('fill', BAND_COLORS[p][k]);
    });
    refLine();
    if (set.med) {
      var bl = d3.line().x(function(d, i) { return x(set.med[i]); }).y(function(d) { return y(d); });
      inner.append('path').datum(BAYES_DEPTHS).attr('d', bl).attr('fill', 'none')
        .attr('stroke', BLUE).attr('stroke-width', 5).attr('stroke-linejoin', 'round');
    }
  }

  // frame and axes
  g.append('rect').attr('x', left).attr('y', top).attr('width', PANEL_W).attr('height', PANEL_H)
    .attr('fill', 'none').attr('stroke', '#000').attr('stroke-width', 3.5);
  drawAxes(g, x, y, left, top, p === 0);

  // panel letter
  g.append('rect').attr('x', left + 9.5).attr('y', top + 9.5).attr('width', 25).attr('height', 34)
    .attr('fill', '#fff').attr('stroke', '#000').attr('stroke-width', 2);
  g.append('text').attr('x', left + 22).attr('y', top + 27).attr('text-anchor', 'middle')
    .attr('dominant-baseline', 'central').style('font-size', '27px').text(PANEL_LETTERS[p]);

  // titles
  g.append('text').attr('x', left + PANEL_W / 2).attr('y', top - 15).attr('text-anchor', 'middle')
    .style('font-size', '27px').text(PANEL_TITLES[p]);
  axisLabel(g, left + PANEL_W / 2, top + PANEL_H + 76, AXIS_LABELS[p][0], AXIS_LABELS[p][1]);

  // chi boxes and legends
  if (p === 0) {
    var chis = row === 0 ? CHI_LSQR[r] : [CHI_BAYES[r]];
    var cols = row === 0 ? LINE_COLORS : ['#000'];
    var by = row === 0 ? top + 512 : top + 592;
    chis.forEach(function(c, k) {
      g.append('rect').attr('x', left + 8).attr('y', by + k * 40).attr('width', 140).attr('height', 40)
        .attr('fill', '#fff').attr('fill-opacity', row === 0 ? 0.8 : 0.55)
        .attr('stroke', '#a0a0a0').attr('stroke-width', 2.5);
      chiLabel(g, left + 15, by + k * 40 + 27, c, cols[k]);
    });
  }
  if (p === 2) {
    if (row === 0) legendLSQR(g, left, top); else legendBayes(g, left, top);
  }
}

REGIONS.forEach(function(reg, r) {
  var aLeft = panelLeft(r, 0);
  svg.append('text').attr('x', aLeft + 362).attr('y', 132).attr('text-anchor', 'middle')
    .style('font-size', '36.5px').text(REGION_NAMES[r]);
  [0, 1].forEach(function(row) {
    for (var p = 0; p < 3; p++) drawPanel(reg, r, row, p);
    var cy = ROW_TOP[row] + PANEL_H / 2;
    svg.append('text').attr('transform', 'translate(' + (aLeft - 89) + ',' + cy + ') rotate(-90)')
      .attr('text-anchor', 'middle').attr('dominant-baseline', 'central')
      .style('font-size', '27px').text('Depth (km)');
  });
});
  </script>
</body>
</html>
